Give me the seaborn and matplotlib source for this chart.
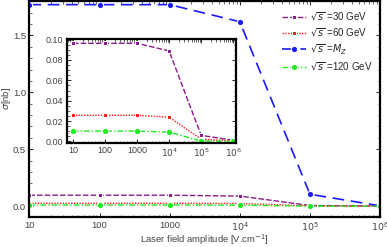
import numpy as np
import pandas as pd
import matplotlib
matplotlib.use('Agg')
import matplotlib.pyplot as plt
import seaborn as sns
from matplotlib.ticker import FixedLocator, MultipleLocator, LogLocator, NullFormatter

sns.set_style("ticks")
plt.rcParams['font.family'] = ['Liberation Sans', 'DejaVu Sans']
plt.rcParams['mathtext.fontset'] = 'dejavusans'

# laser field amplitude values [V/cm]
amplitude = [10, 100, 1000, 1e4, 1e5, 1e6]
tick_labels = ['10', '100', '1000', r'$10^4$', r'$10^5$', r'$10^6$']

# cross sections [nb]
sigma_30 = [0.0963, 0.0963, 0.0963, 0.0888, 0.006, 0.0012]
sigma_60 = [0.0257, 0.0257, 0.0257, 0.0238, 0.0023, 0.0006]
sigma_mz = [1.77, 1.77, 1.77, 1.62, 0.105, 0.003]
sigma_120 = [0.0102, 0.0102, 0.0102, 0.0092, 0.0004, 0.0002]

labels = [r'$\sqrt{s}$ =30 GeV', r'$\sqrt{s}$ =60 GeV',
          r'$\sqrt{s}$ =$M_Z$', r'$\sqrt{s}$ =120 GeV']

df = pd.DataFrame({'E': amplitude * 4,
                   'sigma': sigma_30 + sigma_60 + sigma_mz + sigma_120,
                   'case': [labels[0]] * 6 + [labels[1]] * 6 + [labels[2]] * 6 + [labels[3]] * 6})

styles = {
    labels[0]: dict(color='#8b1a8b', linestyle=(0, (4, 1.5)), marker='s', markersize=3.5, linewidth=1.0),
    labels[1]: dict(color='#ff1a1a', linestyle=(0, (1, 1)), marker='s', markersize=3.5, linewidth=1.0),
    labels[2]: dict(color='#1a1aff', linestyle=(0, (7, 4)), marker='o', markersize=4.5, linewidth=1.2),
    labels[3]: dict(color='#1aee1a', linestyle=(0, (4, 1.5, 1, 1.5)), marker='o', markersize=4.5, linewidth=1.0),
}

tick_col = '#444444'


def style_axes(ax, fs):
    for s in ax.spines.values():
        s.set_linewidth(1.6)
        s.set_color('black')
    ax.tick_params(which='both', direction='in', top=True, right=True, labelsize=fs,
                   labelcolor=tick_col, pad=2.5)
    ax.tick_params(which='major', length=3, width=0.7)
    ax.tick_params(which='minor', length=1.8, width=0.5)
    ax.set_xscale('log')
    ax.xaxis.set_major_locator(FixedLocator(amplitude))
    ax.set_xticklabels(tick_labels)
    ax.xaxis.set_minor_locator(LogLocator(base=10, subs=np.arange(2, 10)))
    ax.xaxis.set_minor_formatter(NullFormatter())


fig = plt.figure(figsize=(3.87, 2.47), dpi=100)
ax = fig.add_axes([0.076, 0.121, 0.906, 0.874])

for name in labels:
    sub = df[df['case'] == name]
    sns.lineplot(data=sub, x='E', y='sigma', ax=ax, label=name, **styles[name])

style_axes(ax, 6.8)
ax.set_xlim(10, 1e6)
ax.set_ylim(-0.096, 1.80)
ax.yaxis.set_major_locator(MultipleLocator(0.5))
ax.yaxis.set_minor_locator(MultipleLocator(0.1))
ax.yaxis.set_major_formatter(matplotlib.ticker.FormatStrFormatter('%.1f'))
ax.set_xlabel(r'Laser field amplitude [V.cm$^{-1}$]', fontsize=6.8, color=tick_col)
ax.set_ylabel(r'$\sigma$[nb]', fontsize=6.8, color=tick_col)
ax.xaxis.set_label_coords(0.5, -0.07)
ax.yaxis.set_label_coords(-0.047, 0.55)

ax.legend(loc='upper right', bbox_to_anchor=(0.995, 0.985), frameon=False, fontsize=7,
          handlelength=2.5, labelspacing=0.35, handletextpad=0.4, borderaxespad=0.2)

# inset (the M_Z curve lies above its range)
axin = fig.add_axes([0.173, 0.421, 0.437, 0.421])
for name in [labels[0], labels[1], labels[3]]:
    sub = df[df['case'] == name]
    sns.lineplot(data=sub, x='E', y='sigma', ax=axin, legend=False, **styles[name])
style_axes(axin, 6.5)
axin.set_xlim(10 ** 0.81, 10 ** 6.09)
axin.set_ylim(-0.0015, 0.1005)
axin.yaxis.set_major_locator(MultipleLocator(0.02))
axin.yaxis.set_minor_locator(MultipleLocator(0.005))
axin.yaxis.set_major_formatter(matplotlib.ticker.FormatStrFormatter('%.2f'))
axin.set_xlabel('')
axin.set_ylabel('')
axin.set_facecolor('white')

fig.savefig('out.png', dpi=100)
